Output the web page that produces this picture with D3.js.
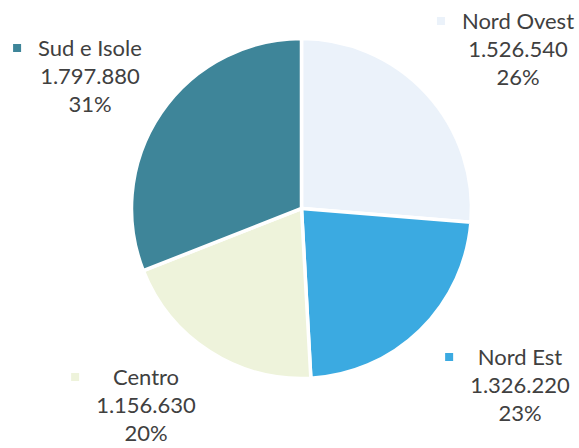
<!DOCTYPE html>
<html>
<head>
<meta charset="utf-8">
<script src="https://cdn.jsdelivr.net/npm/d3@7"></script>
<style>
  body { margin: 0; background: #fff; }
  svg { display: block; }
</style>
</head>
<body>
<svg width="579" height="448"></svg>
<script>
var regions = ["Nord Ovest", "Nord Est", "Centro", "Sud e Isole"];
var values = [1526540, 1326220, 1156630, 1797880];
var colors = ["#EBF2FA", "#3BAAE1", "#EEF3DB", "#3E8599"];

var svg = d3.select("svg"),
    cx = 301.5, cy = 208.5, radius = 170;

var it = d3.formatLocale({decimal: ",", thousands: ".", grouping: [3], currency: ["€", ""]});
var fmtNum = it.format(",d");
var total = d3.sum(values);

var data = regions.map(function(r, i) { return {name: r, value: values[i], color: colors[i]}; });

var pie = d3.pie().sort(null).value(function(d) { return d.value; });
var arc = d3.arc().innerRadius(0).outerRadius(radius);

var g = svg.append("g").attr("transform", "translate(" + cx + "," + cy + ")");

g.selectAll("path")
    .data(pie(data))
  .enter().append("path")
    .attr("d", arc)
    .attr("fill", function(d) { return d.data.color; })
    .attr("stroke", "#fff")
    .attr("stroke-width", 3.5)
    .attr("stroke-linejoin", "miter");

// label anchors (centre x, first baseline)
var labelPos = {
  "Nord Ovest": [518, 29],
  "Nord Est": [520, 365],
  "Centro": [146, 385],
  "Sud e Isole": [90, 56]
};

var lineH = 28;

data.forEach(function(d) {
  var p = labelPos[d.name];
  var lg = svg.append("g").attr("class", "label");
  var lines = [d.name, fmtNum(d.value), Math.round(d.value / total * 100) + "%"];
  var texts = lg.selectAll("text")
      .data(lines)
    .enter().append("text")
      .attr("x", p[0])
      .attr("y", function(t, i) { return p[1] + i * lineH; })
      .attr("text-anchor", "middle")
      .attr("font-family", "Lato, 'Open Sans', sans-serif")
      .attr("font-size", 22)
      .attr("fill", "#404040")
      .text(function(t) { return t; });
  var left = Infinity;
  texts.each(function() {
    var b = this.getBBox();
    left = Math.min(left, b.x);
  });
  lg.append("rect")
      .attr("x", left - 17 - 8)
      .attr("y", p[1] - 12)
      .attr("width", 8)
      .attr("height", 8)
      .attr("fill", d.color);
});
</script>
</body>
</html>
